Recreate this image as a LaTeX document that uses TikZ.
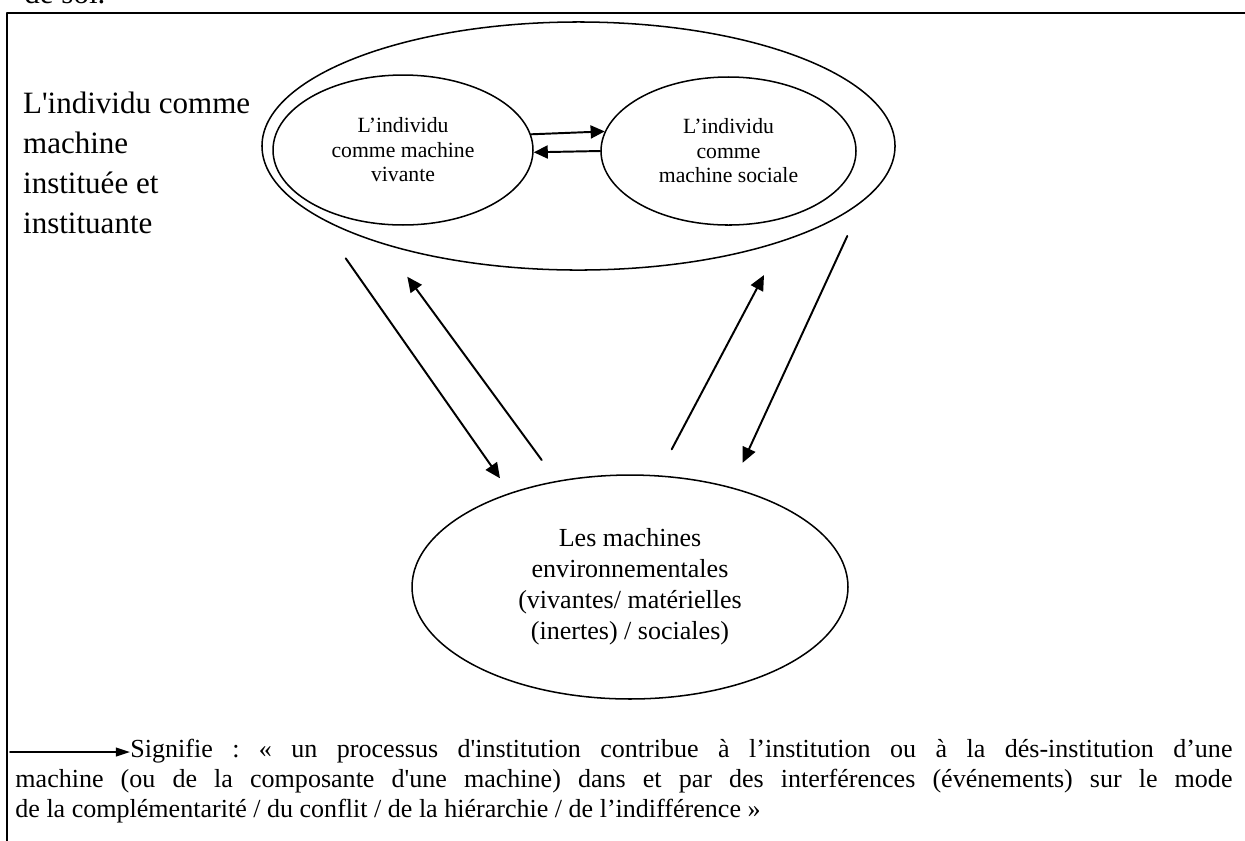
\documentclass[tikz,border=0pt]{standalone}
\usepackage{fontspec}
\setmainfont{Liberation Serif}[Ligatures=TeXOff]
\usetikzlibrary{arrows.meta}
\usetikzlibrary{shapes.geometric}

\begin{document}
\begin{tikzpicture}[line cap=round,line join=round, x=0.4608pt,y=-0.4608pt,
  bulle/.style={draw, ellipse, line width=0.7pt, inner sep=0pt, align=center},
  fleche/.style={line width=0.9pt, -{Triangle[length=6.5pt, width=6pt]}},
  biais/.style={line width=0.9pt, -{Triangle[length=7pt, width=6.3pt]}}]
\clip(0,0) rectangle (1245,840);
% cadre
\draw [line width=1.2pt] (1260,13) -- (7,13) -- (7,860);
\node[anchor=base west, inner sep=0pt, font=\fontsize{14.3}{18.4}\selectfont] (soi) at (24,3) {de soi.};
\node[anchor=base west, inner sep=0pt, align=left, font=\fontsize{14.3}{18.4}\selectfont] (titre) at (22.7,233) {L'individu comme\\machine\\instituée et\\instituante};
% les machines
\node[bulle, minimum width=291.7pt, minimum height=114.3pt] (individu) at (578.5,146) {};
\node[bulle, minimum width=119.8pt, minimum height=69.1pt, font=\fontsize{10}{11.3}\selectfont] (vivante) at (403,150) {L’individu\\comme machine\\vivante};
\node[bulle, minimum width=117.5pt, minimum height=68.2pt, font=\fontsize{10}{11.3}\selectfont] (sociale) at (728.5,151) {L’individu\\comme\\machine sociale};
\node[bulle, minimum width=200.9pt, minimum height=103.2pt, font=\fontsize{12}{14.3}\selectfont] (environ) at (630,587) {Les machines\\environnementales\\(vivantes/ matérielles\\(inertes) / sociales)};
\draw [fleche] (vivante.7.6) -- (sociale.171.7);
\draw [fleche] (sociale.180.9) -- (vivante.-1.3);
% allers-retours
\coordinate (g1h) at (345.7,258.3);
\coordinate (g1b) at (500,478.3);
\coordinate (g2b) at (541.7,460);
\coordinate (g2h) at (407.3,276.7);
\coordinate (d1b) at (671.7,449.3);
\coordinate (d1h) at (764,275);
\coordinate (d2h) at (847.3,236);
\coordinate (d2b) at (742.7,462.7);
\draw [biais] (g1h) -- (g1b);
\draw [biais] (g2b) -- (g2h);
\draw [biais] (d1b) -- (d1h);
\draw [biais] (d2h) -- (d2b);
% legende
\coordinate (cleG) at (10,752);
\coordinate (cleD) at (130,752);
\draw [line width=0.8pt, -{Triangle[length=6.5pt, width=4pt]}] (cleG) -- (cleD);
\node[anchor=north west, inner sep=0pt, text width=560.8pt, align=justify, font=\fontsize{12}{13.8}\selectfont\frenchspacing] (legende) at (15,739) {\hspace*{53pt}Signifie : « un processus d'institution contribue à l’institution ou à la dés-institution d’une\linebreak machine (ou de la composante d'une machine) dans et par des interférences (événements) sur le mode\linebreak de la complémentarité / du conflit / de la hiérarchie / de l’indifférence »};
\end{tikzpicture}
\end{document}
